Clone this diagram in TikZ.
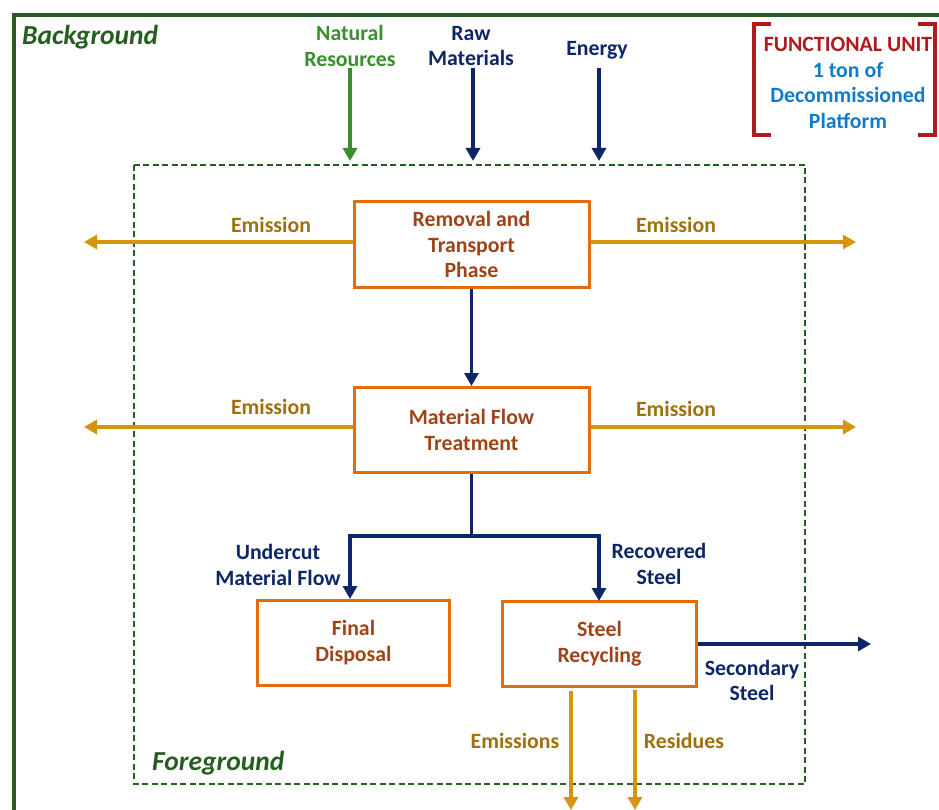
\documentclass[tikz,border=0pt]{standalone}
\usepackage{fontspec}
\setmainfont{Carlito}
\usetikzlibrary{arrows.meta}
\definecolor{bgreen}{RGB}{38,94,32}
\definecolor{natgreen}{RGB}{58,142,46}
\definecolor{navy}{RGB}{13,38,104}
\definecolor{boxorange}{RGB}{228,108,10}
\definecolor{boxtext}{RGB}{158,68,24}
\definecolor{gold}{RGB}{214,148,10}
\definecolor{goldtext}{RGB}{160,112,14}
\definecolor{fured}{RGB}{176,26,30}
\definecolor{fublue}{RGB}{16,124,200}
\tikzset{
  lbl/.style={font=\fontsize{21.8}{25.5}\selectfont\bfseries, align=center, inner sep=0pt},
  procbox/.style={draw=boxorange, line width=3pt, text=boxtext, lbl, minimum width=235pt, minimum height=85pt},
  tip/.style={-{Triangle[length=13pt,width=14pt]}},
  navyarrow/.style={draw=navy, line width=3.6pt, tip},
  goldarrow/.style={draw=gold, line width=3.6pt, tip},
  greenarrow/.style={draw=natgreen, line width=3.6pt, tip},
  navyline/.style={draw=navy, line width=3.6pt},
  ital/.style={lbl, text=bgreen, anchor=west, font=\fontsize{27.5}{30}\selectfont\bfseries\itshape},
}
\begin{document}
\begin{tikzpicture}[x=1pt,y=-1pt]
\useasboundingbox (0,0) rectangle (939,810);
% outer background frame
\draw[bgreen, line width=4pt] (14,820) -- (14,15) -- (950,15);
\node[ital] (bgl) at (22,37) {Background};
% foreground dashed box
\draw[bgreen, line width=1.6pt, dash pattern=on 6pt off 3.5pt] (134,165) rectangle (805,784);
\node[ital] (fgl) at (152,763) {Foreground};

% inputs
\node[lbl, text=natgreen] (nat) at (350,46) {Natural\\Resources};
\node[lbl, text=navy] (raw) at (471,46) {Raw\\Materials};
\node[lbl, text=navy] (energy) at (597,50) {Energy};
\coordinate (natE) at (350,161);
\coordinate (rawE) at (473,161);
\coordinate (enE) at (599,161);
\coordinate (natS) at (350,68);
\coordinate (rawS) at (473,68);
\coordinate (enS) at (599,68);
\draw[greenarrow] (natS) -- (natE);
\draw[navyarrow] (rawS) -- (rawE);
\draw[navyarrow] (enS) -- (enE);

% functional unit
\node[lbl, text=fured] (fu) at (848,44) {FUNCTIONAL UNIT};
\node[lbl, text=fublue] (fu2) at (848,95.5) {1 ton of\\Decommissioned\\Platform};
\draw[fured, line width=3.5pt] (771,24) -- (754,24) -- (754,135) -- (771,135);
\draw[fured, line width=3.5pt] (918,24) -- (935,24) -- (935,135) -- (918,135);

% process boxes
\node[procbox] (rem) at (471.5,244.5) {Removal and\\Transport\\Phase};
\node[procbox] (mft) at (471.5,430) {Material Flow\\Treatment};
\node[procbox, minimum width=192pt] (fd) at (353.5,642.5) {Final\\Disposal};
\node[procbox, minimum width=194pt] (sr) at (599.5,643.5) {Steel\\Recycling};

% emissions
\coordinate (e1L) at (84,242);
\coordinate (e1R) at (856,242);
\coordinate (e2L) at (84,427);
\coordinate (e2R) at (856,427);
\draw[goldarrow] (rem.west |- e1L) -- (e1L);
\draw[goldarrow] (rem.east |- e1R) -- (e1R);
\draw[goldarrow] (mft.west |- e2L) -- (e2L);
\draw[goldarrow] (mft.east |- e2R) -- (e2R);
\node[lbl, text=goldtext] (em1) at (271,225) {Emission};
\node[lbl, text=goldtext] (em2) at (676,225) {Emission};
\node[lbl, text=goldtext] (em3) at (271,407) {Emission};
\node[lbl, text=goldtext] (em4) at (676,409) {Emission};

% main flow
\draw[navyarrow] (rem.south) -- (mft.north);
\coordinate (split) at (471.5,536);
\draw[navyline] (mft.south) -- (split);
\draw[navyarrow] (split) -- (350,536) -- (350,599);
\draw[navyarrow] (split) -- (599,536) -- (599,601);
\node[lbl, text=navy] (uc) at (278,565) {Undercut\\Material Flow};
\node[lbl, text=navy] (rs) at (659,564) {Recovered\\Steel};

% outputs of steel recycling
\coordinate (ss) at (871,644);
\draw[navyarrow] (sr.east |- ss) -- (ss);
\node[lbl, text=navy] (ssl) at (752,680.5) {Secondary\\Steel};
\coordinate (emA) at (571,810);
\coordinate (emB) at (635,810);
\draw[goldarrow] (571,691) -- (emA);
\draw[goldarrow] (635,690) -- (emB);
\node[lbl, text=goldtext] (ems) at (515,741) {Emissions};
\node[lbl, text=goldtext] (res) at (684,741) {Residues};
\end{tikzpicture}
\end{document}
